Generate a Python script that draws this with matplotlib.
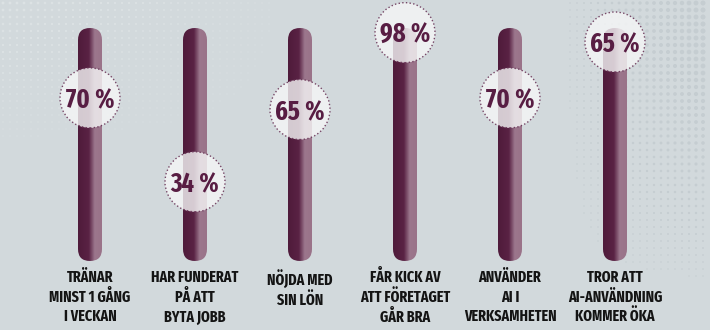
"""
Survey infographic: six vertical rods with a percentage badge on each.

Example:
    python plot.py
"""

from __future__ import annotations

import numpy as np
import matplotlib

matplotlib.use("Agg")
import matplotlib.pyplot as plt
from matplotlib.colors import LinearSegmentedColormap, to_rgba
from matplotlib.patches import FancyBboxPatch

LABELS = [
    "TRÄNAR\nMINST 1 GÅNG\nI VECKAN",
    "HAR FUNDERAT\nPÅ ATT\nBYTA JOBB",
    "NÖJDA MED\nSIN LÖN",
    "FÅR KICK AV\nATT FÖRETAGET\nGÅR BRA",
    "ANVÄNDER\nAI I\nVERKSAMHETEN",
    "TROR ATT\nAI-ANVÄNDNING\nKOMMER ÖKA",
]
VALUES = [70, 34, 65, 98, 70, 65]
# where each badge sits on its 0-100 rod
# (the last badge is drawn higher than its stated value)
BADGE_LEVELS = [70, 34, 65, 98, 70, 94]

FIG_W, FIG_H, DPI = 7.1, 3.3, 100
BG_COLOR = "#d2d9dc"
VALUE_COLOR = "#581d43"
LABEL_COLOR = "#141414"
FONT = ["Fira Sans Extra Condensed", "DejaVu Sans"]

# axes box in pixels: rods run from y=261 (0 %) up to y=28 (100 %)
AX_LEFT, AX_RIGHT = 37.5, 667.5
AX_BOTTOM_PX, AX_TOP_PX = 261, 28
ROD_HALF_PX = 12
BADGE_DIAM_PX = 60

ROD_CMAP = LinearSegmentedColormap.from_list(
    "rod",
    [
        (0.0, "#4f1b3b"),
        (0.45, "#5a2244"),
        (0.58, "#7a4c68"),
        (0.70, "#9c778d"),
        (1.0, "#9a7389"),
    ],
)


def draw_halftone(bg_ax) -> None:
    """Faint dot screens in the top left and along the right edge."""
    xs, ys = np.meshgrid(np.arange(3, 710, 7), np.arange(3, 330, 7))
    xs, ys = xs.ravel(), ys.ravel()

    right = np.clip((xs - 560) / 150, 0, 1) * np.clip((290 - ys) / 240, 0, 1)
    keep = right > 0.05
    diam = 1.2 + 4.0 * right[keep]
    bg_ax.scatter(xs[keep], ys[keep], s=(diam * 0.72) ** 2, color="#c5cdd1",
                  linewidths=0, zorder=1)

    left = np.clip((150 - ys) / 150, 0, 1) * np.clip((300 - xs) / 300, 0, 1)
    keep = left > 0.08
    diam = 1.0 + 2.0 * left[keep]
    bg_ax.scatter(xs[keep], ys[keep], s=(diam * 0.72) ** 2, color="#dce2e4",
                  linewidths=0, zorder=1)


def main() -> None:
    fig = plt.figure(figsize=(FIG_W, FIG_H), dpi=DPI)
    fig.patch.set_facecolor(BG_COLOR)

    width_px, height_px = FIG_W * DPI, FIG_H * DPI
    bg_ax = fig.add_axes([0, 0, 1, 1])
    bg_ax.set_xlim(0, width_px)
    bg_ax.set_ylim(height_px, 0)
    bg_ax.axis("off")
    draw_halftone(bg_ax)

    n = len(VALUES)
    ax = fig.add_axes([
        AX_LEFT / width_px,
        (height_px - AX_BOTTOM_PX) / height_px,
        (AX_RIGHT - AX_LEFT) / width_px,
        (AX_BOTTOM_PX - AX_TOP_PX) / height_px,
    ])
    ax.set_facecolor("none")
    ax.axis("off")

    x_per_px = n / (AX_RIGHT - AX_LEFT)
    y_per_px = 100 / (AX_BOTTOM_PX - AX_TOP_PX)
    half = ROD_HALF_PX * x_per_px
    aspect = y_per_px / x_per_px

    gradient = np.linspace(0, 1, 64).reshape(1, -1)
    positions = np.arange(n)

    for x in positions:
        rod = FancyBboxPatch(
            (x - half, 0), 2 * half, 100,
            boxstyle=f"round,pad=0,rounding_size={half}",
            mutation_aspect=aspect,
            facecolor="none", edgecolor="none",
        )
        ax.add_patch(rod)
        image = ax.imshow(gradient, cmap=ROD_CMAP, aspect="auto",
                          extent=[x - half, x + half, 0, 100], zorder=2)
        image.set_clip_path(rod)

    ax.scatter(
        positions, BADGE_LEVELS,
        s=(BADGE_DIAM_PX * 0.72) ** 2,
        facecolors=[to_rgba("#f6f7f7", 0.8)] * n,
        edgecolors=[to_rgba("#6a3558", 0.9)] * n,
        linewidths=1.0, linestyles=":", zorder=3, clip_on=False,
    )

    for x, level, value, label in zip(positions, BADGE_LEVELS, VALUES, LABELS):
        ax.text(x, level, f"{value}\u2009%", ha="center", va="center_baseline",
                fontsize=19, fontweight="bold", color=VALUE_COLOR,
                family=FONT, zorder=4)
        ax.annotate(label, xy=(x, 0), xytext=(0, -6), textcoords="offset points",
                    ha="center", va="top", fontsize=11, fontweight="bold",
                    color=LABEL_COLOR, family=FONT, linespacing=1.3,
                    annotation_clip=False)

    ax.set_xlim(-0.5, n - 0.5)
    ax.set_ylim(0, 100)

    fig.savefig("out.png", dpi=DPI, facecolor=fig.get_facecolor())
    plt.close(fig)


if __name__ == "__main__":
    main()
